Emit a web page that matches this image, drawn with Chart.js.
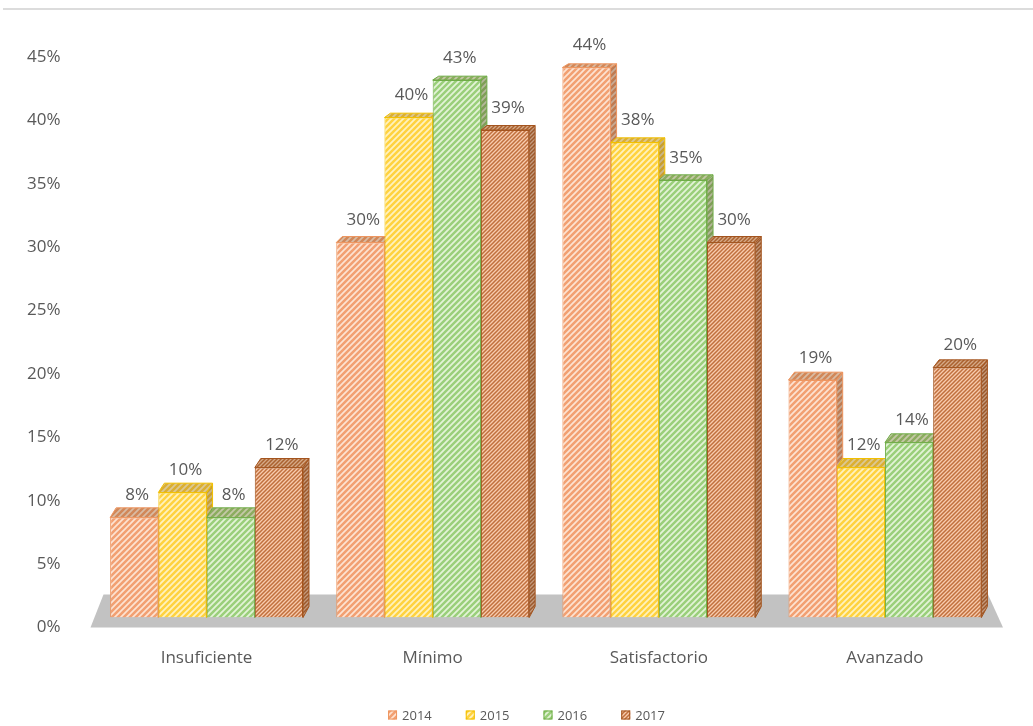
<!DOCTYPE html>
<html>
<head>
<meta charset="utf-8">
<title>Niveles de desempeño 2014-2017</title>
<script src="https://cdn.jsdelivr.net/npm/chart.js@4.4.1/dist/chart.umd.min.js"></script>
<style>
  html, body { margin: 0; padding: 0; background: #fff; }
  #wrap { width: 1033px; height: 726px; }
</style>
</head>
<body>
<div id="wrap"><canvas id="myChart"></canvas></div>
<script>
// categories, years and percentages per year
const categories = ['Insuficiente', 'Mínimo', 'Satisfactorio', 'Avanzado'];
const years = ['2014', '2015', '2016', '2017'];
const values2014 = [8, 30, 44, 19];
const values2015 = [10, 40, 38, 12];
const values2016 = [8, 43, 35, 14];
const values2017 = [12, 39, 30, 20];
const yTicks = [0, 5, 10, 15, 20, 25, 30, 35, 40, 45];

const DX = 6;          // depth of the bars, horizontal
const TEXT = '#595959';
const FONT = '"Open Sans", "Noto Sans", sans-serif';

// diagonal hatch fill
function hatch(base, line, size, lw) {
  const c = document.createElement('canvas');
  c.width = c.height = size;
  const g = c.getContext('2d');
  g.fillStyle = base;
  g.fillRect(0, 0, size, size);
  g.strokeStyle = line;
  g.lineWidth = lw;
  g.beginPath();
  g.moveTo(-1, size + 1); g.lineTo(size + 1, -1);
  g.moveTo(-size / 2 - 1, size / 2 + 1); g.lineTo(size / 2 + 1, -size / 2 - 1);
  g.moveTo(size / 2 - 1, size * 1.5 + 1); g.lineTo(size * 1.5 + 1, size / 2 - 1);
  g.stroke();
  return g.createPattern(c, 'repeat');
}

const fills = [
  hatch('#F2A072', '#FDE3D2', 6, 1.7),
  hatch('#FFD23F', '#FFF2BE', 6, 1.8),
  hatch('#9ACF7A', '#E3F3D7', 6, 1.8),
  hatch('#F8CBAD', '#C0703E', 4, 1.5)
];
const borders = ['#EE9660', '#F2C000', '#6FAD47', '#A4541E'];

// how much a top face rises, bigger lower down in the plot
function lift(y, area) {
  return 3.5 + (y - area.top) * 0.0135;
}

// invisible tick marks used as spacing between labels and plot
const spacer = len => ({ display: true, drawOnChartArea: false, drawTicks: true, tickLength: len, color: 'rgba(0,0,0,0)' });

const depth3d = {
  id: 'depth3d',
  beforeDraw(chart) {
    const ctx = chart.ctx;
    ctx.save();
    ctx.fillStyle = '#dcdcdc';
    ctx.fillRect(3, 8, chart.width - 3, 2);
    ctx.restore();
  },
  beforeDatasetsDraw(chart) {
    const ctx = chart.ctx;
    const a = chart.chartArea;
    ctx.save();
    // floor
    ctx.fillStyle = '#c2c2c2';
    ctx.beginPath();
    ctx.moveTo(a.left - 3, a.bottom + 10);
    ctx.lineTo(a.right + 5, a.bottom + 10);
    ctx.lineTo(a.right - 10, a.bottom - 23);
    ctx.lineTo(a.left + 10, a.bottom - 23);
    ctx.closePath();
    ctx.fill();

    const bars = [];
    chart.data.datasets.forEach((ds, i) => {
      chart.getDatasetMeta(i).data.forEach(bar => bars.push({ bar, i }));
    });

    // side faces first, then tops so neighbours cover them correctly
    bars.forEach(({ bar, i }) => {
      const r = bar.x + bar.width / 2;
      const t = bar.y, b = bar.base;
      ctx.beginPath();
      ctx.moveTo(r, t);
      ctx.lineTo(r + DX, t - lift(t, a));
      ctx.lineTo(r + DX, b - lift(b, a));
      ctx.lineTo(r, b);
      ctx.closePath();
      ctx.fillStyle = fills[i];
      ctx.fill();
      ctx.fillStyle = 'rgba(60,30,0,0.28)';
      ctx.fill();
      ctx.strokeStyle = borders[i];
      ctx.lineWidth = 1;
      ctx.stroke();
    });
    bars.forEach(({ bar, i }) => {
      const l = bar.x - bar.width / 2;
      const r = bar.x + bar.width / 2;
      const t = bar.y;
      const d = lift(t, a);
      ctx.beginPath();
      ctx.moveTo(l, t);
      ctx.lineTo(l + DX, t - d);
      ctx.lineTo(r + DX, t - d);
      ctx.lineTo(r, t);
      ctx.closePath();
      ctx.fillStyle = fills[i];
      ctx.fill();
      ctx.fillStyle = 'rgba(90,50,0,0.22)';
      ctx.fill();
      ctx.strokeStyle = borders[i];
      ctx.lineWidth = 1;
      ctx.stroke();
    });
    ctx.restore();
  },
  afterDatasetsDraw(chart) {
    const ctx = chart.ctx;
    ctx.save();
    ctx.font = '17px ' + FONT;
    ctx.fillStyle = TEXT;
    ctx.textAlign = 'center';
    ctx.textBaseline = 'middle';
    chart.data.datasets.forEach((ds, i) => {
      chart.getDatasetMeta(i).data.forEach((bar, j) => {
        ctx.fillText(ds.data[j] + '%', bar.x + DX / 2, bar.y - 22);
      });
    });
    ctx.restore();
  },
  afterDraw(chart) {
    // legend row under the axis labels
    const ctx = chart.ctx;
    ctx.save();
    ctx.font = '13px ' + FONT;
    ctx.textBaseline = 'middle';
    const box = 9, gap = 5, space = 34;
    const widths = years.map(t => ctx.measureText(t).width);
    const total = widths.reduce((s, w) => s + box + gap + w, 0) + space * (years.length - 1);
    let x = chart.width / 2 + 10 - total / 2;
    const y = 715;
    years.forEach((t, i) => {
      ctx.fillStyle = fills[i];
      ctx.fillRect(x, y - box / 2, box, box);
      ctx.strokeStyle = borders[i];
      ctx.lineWidth = 1;
      ctx.strokeRect(x + 0.5, y - box / 2 + 0.5, box - 1, box - 1);
      ctx.fillStyle = TEXT;
      ctx.fillText(t, x + box + gap, y + 1);
      x += box + gap + widths[i] + space;
    });
    ctx.restore();
  }
};

const seriesValues = [values2014, values2015, values2016, values2017];

new Chart(document.getElementById('myChart'), {
  type: 'bar',
  data: {
    labels: categories,
    datasets: years.map((yr, i) => ({
      label: yr,
      data: seriesValues[i],
      backgroundColor: fills[i],
      borderColor: borders[i],
      borderWidth: 1,
      categoryPercentage: 0.853,
      barPercentage: 1.0,
      yAxisID: 'y'
    }))
  },
  options: {
    responsive: true,
    maintainAspectRatio: false,
    animation: false,
    layout: { padding: { top: 55, left: 27, right: 35, bottom: 58 } },
    plugins: {
      legend: { display: false },
      tooltip: { enabled: false }
    },
    scales: {
      x: {
        grid: spacer(30),
        border: { display: false },
        ticks: { color: TEXT, font: { family: FONT, size: 17 }, padding: 0 }
      },
      y: {
        display: false,
        min: 0,
        max: 45
      },
      // labels sit on the back wall, so they use a slightly stretched scale
      yl: {
        position: 'left',
        min: 0,
        max: 44.37,
        grid: spacer(33),
        border: { display: false },
        afterBuildTicks(scale) {
          scale.ticks = yTicks.map(v => ({ value: v }));
        },
        ticks: {
          color: TEXT,
          font: { family: FONT, size: 17 },
          padding: 0,
          labelOffset: 10,
          callback: v => v + '%'
        }
      }
    }
  },
  plugins: [depth3d]
});
</script>
</body>
</html>
